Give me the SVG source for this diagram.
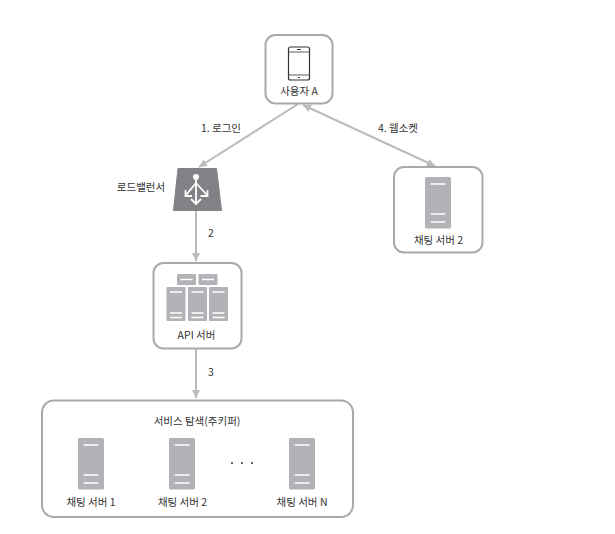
<svg xmlns="http://www.w3.org/2000/svg" width="615" height="534" viewBox="0 0 615 534">
<style>
text{font-family:"Noto Sans CJK KR","Noto Sans",sans-serif;font-size:10.5px;fill:#333;text-anchor:middle}
.box{fill:#fff;stroke:#a7a9ac;stroke-width:2}
.line{stroke:#b9bbbd;stroke-width:2;fill:none}
.srv{fill:#b1b3b6}
.bar{stroke:#fff;stroke-width:1.500;fill:none}
</style>
<defs>
<marker id="arr" markerUnits="userSpaceOnUse" markerWidth="10" markerHeight="10" refX="8" refY="4" orient="auto-start-reverse"><path d="M0 0L8 4L0 8Z" fill="#b9bbbd"/></marker>
<g id="server"><rect class="srv" x="-13" y="0" width="26" height="51.500" rx="1.500"/><path class="bar" d="M-7.500 7H7.500M-7.500 37H7.500M-7.500 45H7.500"/></g>
<g id="mini"><rect class="srv" x="-9.500" y="0" width="19" height="34" rx="1"/><path class="bar" d="M-6 5H6M-6 26H6M-6 30.500H6"/></g>
<g id="top"><rect class="srv" x="-9.500" y="0" width="19" height="11" rx="1"/><path class="bar" d="M-6 5.500H6"/></g>
</defs>
<g id="connectors">
<path class="line" marker-end="url(#arr)" d="M298 104L199 167"/>
<path class="line" marker-start="url(#arr)" marker-end="url(#arr)" d="M303 105L435 166"/>
<path class="line" marker-end="url(#arr)" d="M196 211V261"/>
<path class="line" marker-end="url(#arr)" d="M196 349V398"/>
</g>
<text x="221" y="132">1. 로그인</text>
<text x="398" y="132">4. 웹소켓</text>
<text x="211" y="237">2</text>
<text x="211" y="376">3</text>
<g id="user-a"><rect class="box" x="265.500" y="35" width="67" height="68.500" rx="10"/>
<rect x="288.500" y="47" width="21" height="33" rx="2" fill="#fff" stroke="#333" stroke-width="1.200"/><path d="M289 52H309M289 75H309" stroke="#333" stroke-width="0.800" fill="none"/><path d="M297 49.500H301M298 77.500H300" stroke="#333" fill="none"/>
<text x="299" y="95">사용자 A</text></g>
<g id="load-balancer"><path d="M178 168.500H216.500L221.500 210.500H173.500Z" fill="#808285" stroke="#808285" stroke-linejoin="round"/>
<path d="M196 177V204M196 183L186 195M196 183L207 195M191 199L196 204L201 199M185.500 190V196H192M207.500 190V196H200.500" stroke="#fff" stroke-width="1.800" fill="none"/><circle cx="196" cy="177" r="3" fill="#fff"/>
<text x="141" y="191">로드밸런서</text></g>
<g id="chat-server-top"><rect class="box" x="394" y="167" width="88.500" height="85.500" rx="10"/><use href="#server" x="438" y="177"/><text x="438.500" y="244">채팅 서버 2</text></g>
<g id="api-server"><rect class="box" x="153.500" y="263" width="88" height="85.500" rx="10"/>
<use href="#top" x="186.500" y="274"/><use href="#top" x="208" y="274"/><use href="#mini" x="176" y="287"/><use href="#mini" x="197.500" y="287"/><use href="#mini" x="218.500" y="287"/>
<text x="196.500" y="338.500">API 서버</text></g>
<g id="service-discovery"><rect class="box" x="42" y="400.500" width="311" height="116.500" rx="12"/>
<text x="197" y="424.500">서비스 탐색(주키퍼)</text>
<use href="#server" x="91" y="438"/><use href="#server" x="182" y="438"/><use href="#server" x="302" y="438"/>
<text x="91" y="505.500">채팅 서버 1</text><text x="182.500" y="505.500">채팅 서버 2</text><text x="302" y="505.500">채팅 서버 N</text>
<circle cx="232" cy="463" r="1" fill="#333"/><circle cx="242" cy="463" r="1" fill="#333"/><circle cx="252" cy="463" r="1" fill="#333"/></g>
</svg>
